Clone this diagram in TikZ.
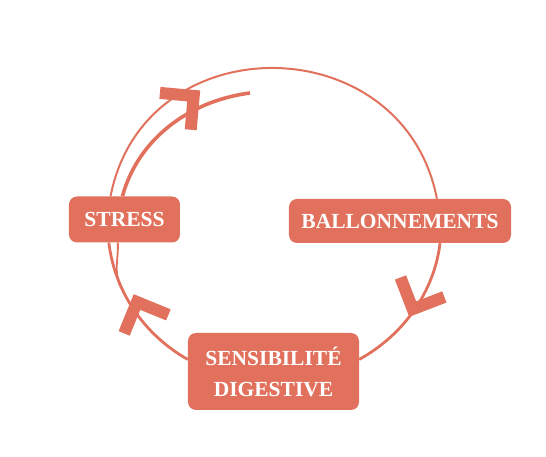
\documentclass[tikz,border=0pt]{standalone}
\usepackage{fontspec}
\setmainfont{Liberation Serif}
\usetikzlibrary{arrows.meta, decorations.markings}
\definecolor{cyclered}{RGB}{225, 113, 92}

\begin{document}
\begin{tikzpicture}[x=1pt, y=1pt,
  box/.style={fill=cyclered, text=white, rounded corners=8pt, inner sep=0pt, align=center, minimum height=46pt, font=\bfseries\fontsize{21.5}{31}\selectfont},
  ring/.style={cyclered, line width=2.8pt},
  chevron/.style n args={3}{postaction={decorate}, decoration={markings, mark=at position #1 with {\pgftransformyshift{#3}\pgftransformrotate{#2}\arrow{Straight Barb[length=24pt, width=48pt, line width=12pt, sharp]}}}}
]
  \useasboundingbox (-274, -232) rectangle (272, 225);

  % Boxes
  \node[box, minimum width=111pt] (stress) at (-149.5, 5.5) {STRESS};
  \node[box, minimum width=222pt, minimum height=44pt] (ballon) at (126, 4) {BALLONNEMENTS};
  \node[box, minimum width=171pt, minimum height=77pt] (sensib) at (-0.5, -146.5) {SENSIBILITÉ\\DIGESTIVE};

  % Cycle
  \coordinate (tail) at (-24, 132);
  \coordinate (merge) at (-153.4, -62);
  \draw[ring, line width=2pt, chevron={0.325}{15}{-7pt}] (stress.121) to[out=79, in=101, out distance=176pt, in distance=176pt] (ballon.31);
  \draw[ring, line width=3.6pt] (stress.95) to[out=75, in=187.5, out distance=56pt, in distance=65pt] (tail);
  \draw[ring, chevron={0.55}{14}{0pt}] (ballon.331) to[out=263, in=29, out distance=49pt, in distance=51pt] (sensib.8);
  \draw[ring, chevron={0.6}{-6}{-8pt}] (sensib.172) to[out=150.5, in=277, out distance=51pt, in distance=49pt] (stress.236);
  \draw[ring, line width=1.8pt] (stress.254) to[out=-88, in=114] (merge);
\end{tikzpicture}
\end{document}
